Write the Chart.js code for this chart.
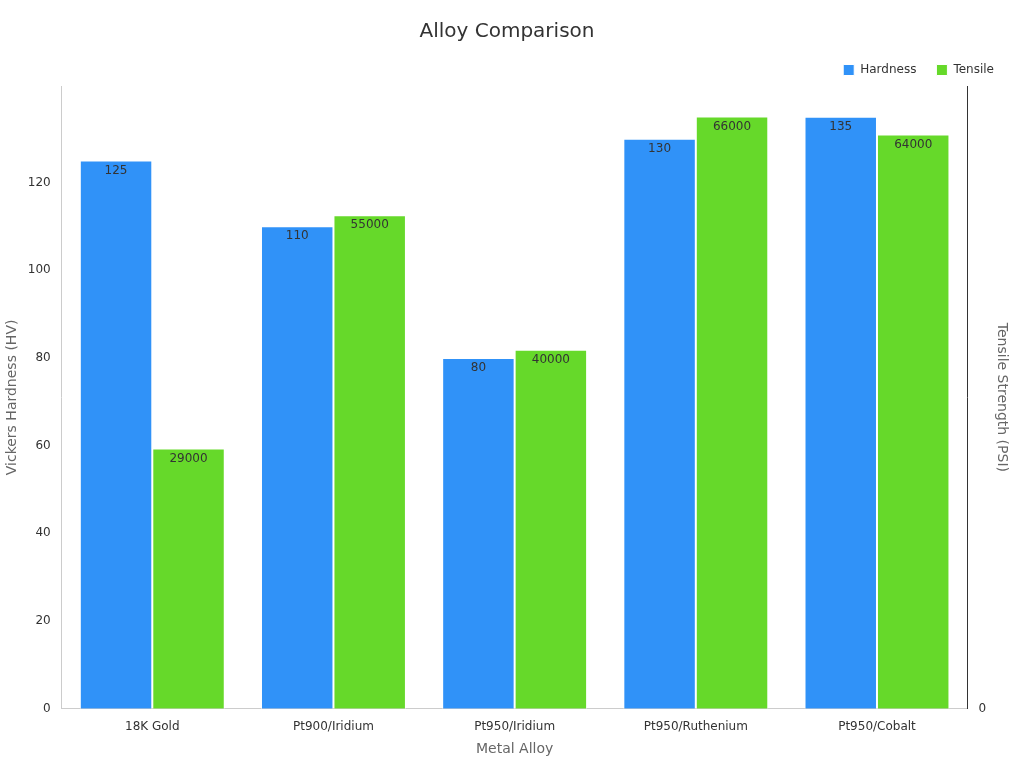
<!DOCTYPE html>
<html>
<head>
<meta charset="utf-8">
<script src="https://cdn.jsdelivr.net/npm/chart.js@4"></script>
<style>
  html, body { margin: 0; background: #fff; }
  #wrap { width: 1024px; height: 768px; }
</style>
</head>
<body>
<div id="wrap"><canvas id="chart"></canvas></div>
<script>
// Alloy comparison: hardness on left axis, tensile strength on right
const alloys = ["18K Gold", "Pt900/Iridium", "Pt950/Iridium", "Pt950/Ruthenium", "Pt950/Cobalt"];
const hardness = [125, 110, 80, 130, 135];
const tensile = [29000, 55000, 40000, 66000, 64000];

const BLUE = "#3092F8";
const GREEN = "#66D92A";
const FONT = "DejaVu Sans";

Chart.defaults.font.family = FONT;

// value labels just inside the top of each bar
const barLabels = {
  id: "barLabels",
  afterDatasetsDraw(chart) {
    const ctx = chart.ctx;
    ctx.save();
    ctx.font = "12px " + FONT;
    ctx.fillStyle = "#333";
    ctx.textAlign = "center";
    ctx.textBaseline = "top";
    chart.data.datasets.forEach((ds, i) => {
      chart.getDatasetMeta(i).data.forEach((bar, j) => {
        ctx.fillText(String(ds.data[j]), bar.x, bar.y + 4);
      });
    });
    ctx.restore();
  },
};

new Chart(document.getElementById("chart"), {
  type: "bar",
  data: {
    labels: alloys,
    datasets: [
      { label: "Hardness", data: hardness, backgroundColor: BLUE, borderColor: "#fff", borderWidth: 1, yAxisID: "y" },
      { label: "Tensile", data: tensile, backgroundColor: GREEN, borderColor: "#fff", borderWidth: 1, yAxisID: "y1" },
    ],
  },
  options: {
    responsive: true,
    maintainAspectRatio: false,
    animation: false,
    categoryPercentage: 0.8,
    barPercentage: 1,
    layout: { padding: { left: 0, right: 10, top: 10, bottom: 6 } },
    plugins: {
      title: { display: true, text: "Alloy Comparison", color: "#333", font: { size: 20, weight: "normal" }, padding: { top: 10, bottom: 0 } },
      legend: {
        align: "end",
        labels: { boxWidth: 11, boxHeight: 11, color: "#333", font: { size: 12 }, padding: 20 },
      },
      tooltip: { enabled: false },
    },
    scales: {
      x: {
        grid: { display: false },
        border: { color: "#ccc" },
        ticks: { color: "#333", font: { size: 12 } },
        title: { display: true, text: "Metal Alloy", color: "#666", font: { size: 14 } },
      },
      y: {
        min: 0, max: 142,
        grid: { display: false, drawTicks: true },
        border: { color: "#ccc" },
        ticks: { stepSize: 20, color: "#333", font: { size: 12 }, callback: (v) => (v % 20 === 0 ? v : null) },
        title: { display: true, text: "Vickers Hardness (HV)", color: "#666", font: { size: 14 } },
      },
      y1: {
        position: "right",
        min: 0, max: 69400,
        grid: { display: false },
        border: { color: "#333" },
        ticks: { stepSize: 10000, color: "#333", font: { size: 12 }, callback: (v) => (v % 10000 === 0 ? (v === 0 ? "0" : v / 1000 + "k") : null) },
        title: { display: true, text: "Tensile Strength (PSI)", color: "#666", font: { size: 14 } },
      },
    },
  },
  plugins: [barLabels],
});
</script>
</body>
</html>
